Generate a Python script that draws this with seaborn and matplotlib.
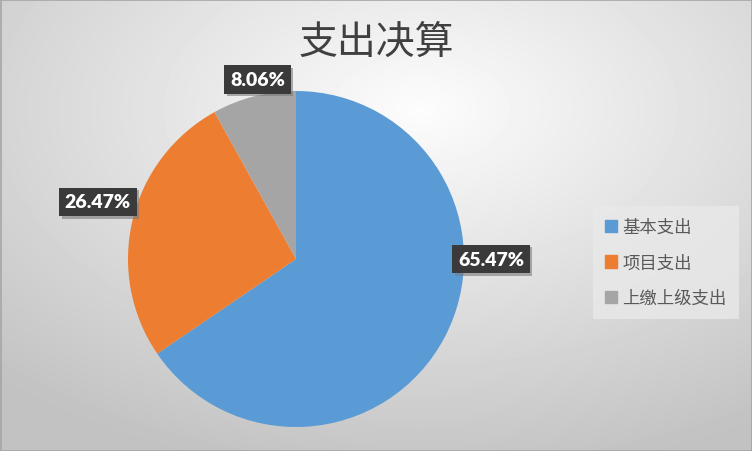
import matplotlib.patheffects as pe
import matplotlib.pyplot as plt
import numpy as np
import seaborn as sns

categories = ["基本支出", "项目支出", "上缴上级支出"]
shares = [65.47, 26.47, 8.06]
colors = ["#5B9BD5", "#ED7D31", "#A5A5A5"]
title = "支出决算"

sns.set_style("white")
plt.rcParams["font.family"] = ["Noto Sans CJK SC", "DejaVu Sans"]

fig = plt.figure(figsize=(7.52, 4.52), dpi=100)

# radial gradient background
bg = fig.add_axes([0, 0, 1, 1], zorder=0)
yy, xx = np.mgrid[0:452, 0:752]
d = np.sqrt(((xx - 420) / 752) ** 2 + ((yy - 110) / 452) ** 2)
shade = np.clip(0.99 - 0.28 * d, 0.76, 1.0)
bg.imshow(shade, cmap="gray", vmin=0, vmax=1, aspect="auto",
          extent=[0, 752, 452, 0])
bg.set_xlim(0, 752)
bg.set_ylim(452, 0)
bg.axis("off")
bg.add_patch(plt.Rectangle((0.5, 0.5), 751, 451, fill=False,
                           edgecolor="#a6a6a6", linewidth=1.2))

ax = fig.add_axes([128 / 752, 24 / 452, 336 / 752, 336 / 452], zorder=1)
wedges, _ = ax.pie(shares, colors=colors, startangle=90, counterclock=False,
                   radius=1, wedgeprops={"linewidth": 0})
ax.set_xlim(-1, 1)
ax.set_ylim(-1, 1)
ax.set_aspect("equal")
ax.axis("off")

# data labels with a soft drop shadow on the box
label_pos = [(1.16, 0.0), (-1.18, 0.34), (-0.23, 1.07)]
for val, (lx, ly) in zip(shares, label_pos):
    t = ax.text(lx, ly, f"{val:.2f}%", ha="center", va="center",
                color="white", fontsize=14, fontweight="heavy",
                family=["Lato", "DejaVu Sans"],
                bbox=dict(boxstyle="square,pad=0.3", facecolor="#3a3a3a",
                          edgecolor="none"), zorder=5)
    t.get_bbox_patch().set_path_effects(
        [pe.SimplePatchShadow(offset=(2, -2), shadow_rgbFace="#7a7a7a",
                              alpha=0.6), pe.Normal()])

fig.text(0.5, 0.905, title, ha="center", va="center", fontsize=28,
         color="#404040", fontweight="light")

handles = [plt.Rectangle((0, 0), 1, 1, color=c) for c in colors]
leg = fig.legend(handles, categories, loc="upper left",
                 bbox_to_anchor=(593 / 752, 1 - 207 / 452),
                 borderaxespad=0,
                 fontsize=12.5, frameon=True, handlelength=0.7,
                 handleheight=0.7, handletextpad=0.3, labelspacing=1.0,
                 borderpad=0.7, fancybox=False, labelcolor="#595959")
leg.get_frame().set_facecolor("#e9e9e9")
leg.get_frame().set_edgecolor("none")
leg.get_frame().set_alpha(0.8)

fig.savefig("out.png", dpi=100)
